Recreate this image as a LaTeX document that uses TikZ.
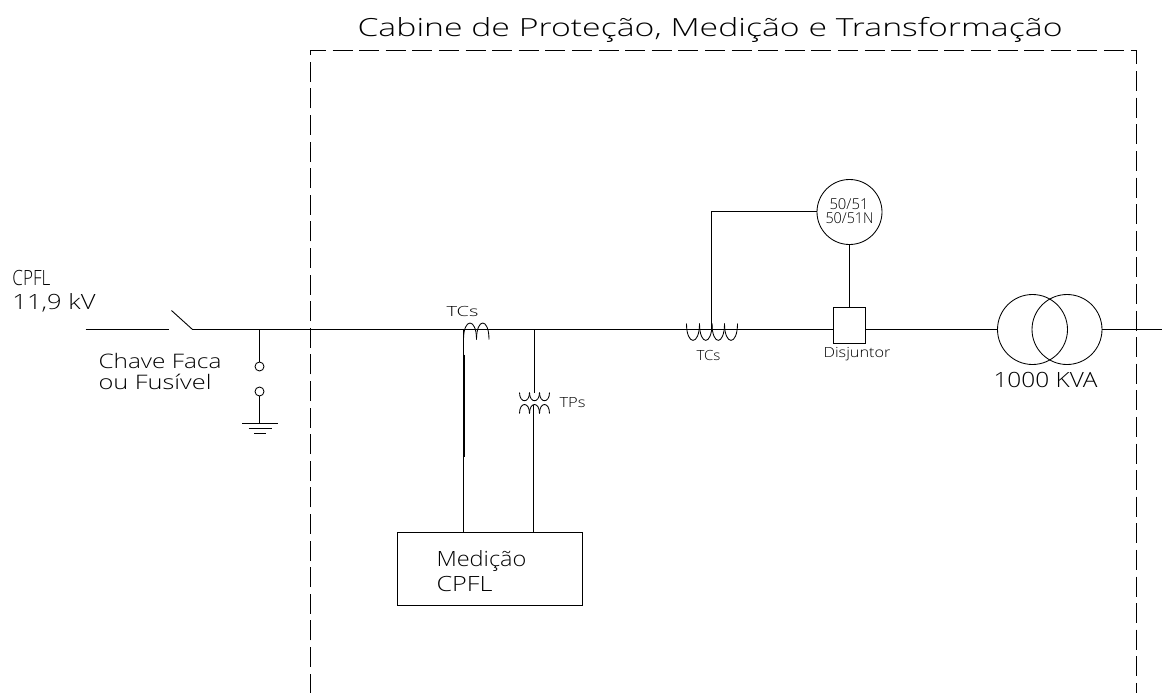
\documentclass[tikz,border=0pt]{standalone}
\usepackage{fontspec}
\usepackage{graphicx}
\newfontfamily\cadfont{Open Sans}[UprightFont=* Light]
% \cadtext{width}{font size}{text}: text stretched to a set width
\newcommand{\cadtext}[3]{\setbox0=\hbox{\fontsize{#2}{#2}\cadfont #3}%
  \pgfmathsetmacro{\cadratio}{#1pt/\the\wd0}%
  \scalebox{\cadratio}[1]{\box0}}
\tikzset{
  wire/.style={line width=0.9pt,black},
  thickwire/.style={line width=2pt,black},
  coil/.style={line width=0.85pt,black},
  boundary/.style={line width=0.9pt,black,dash pattern=on 20pt off 6.6pt},
  lbl/.style={anchor=base west,inner sep=0pt,outer sep=0pt,text=black},
  relay/.style={circle,draw,line width=0.85pt,minimum size=65pt,inner sep=0pt},
  tank/.style={circle,draw,line width=0.85pt,minimum size=70pt,inner sep=0pt},
  term/.style={circle,draw,line width=0.85pt,minimum size=9pt,inner sep=0pt},
  boxed/.style={rectangle,draw,line width=0.9pt,inner sep=0pt}
}
\begin{document}
\begin{tikzpicture}[x=1pt,y=-1pt]
\useasboundingbox (0,0) rectangle (1162,693);
\begin{scope}[xshift=0.5pt,yshift=-0.5pt]
% boundary
\draw[boundary] (310,693) -- (310,50) -- (1136,50) -- (1136,693);
% labels
\node[lbl] (title) at (357,36) {\cadtext{705}{25}{Cabine de Proteção, Medição e Transformação}};
\node[lbl] (cpfl) at (12,285) {\cadtext{38}{21}{CPFL}};
\node[lbl] (kv) at (12,309) {\cadtext{83}{21}{11,9 kV}};
\node[lbl] (chave) at (98,368) {\cadtext{123}{20}{Chave Faca}};
\node[lbl] (fus) at (98,389) {\cadtext{113}{20}{ou Fusível}};
\node[lbl] (tc1) at (446,316) {\cadtext{32}{14}{TCs}};
\node[lbl] (tp) at (559,407) {\cadtext{26}{14}{TPs}};
\node[lbl] (tc2) at (696,360) {\cadtext{24}{14}{TCs}};
\node[lbl] (dj) at (823,357) {\cadtext{67}{14}{Disjuntor}};
\node[lbl] (kva) at (993,387) {\cadtext{104}{21}{1000 KVA}};
% equipment nodes
\node[relay] (relay) at (849,211.5) {};
\node[lbl] (r1) at (829,209) {\cadtext{39}{15}{50/51}};
\node[lbl] (r2) at (825,223) {\cadtext{48}{15}{50/51N}};
\node[boxed,minimum width=32pt,minimum height=36pt] (disj) at (849,325) {};
\node[tank] (t1) at (1032,329) {};
\node[tank] (t2) at (1066.5,329) {};
\node[boxed,minimum width=185pt,minimum height=73pt] (med) at (489.5,568.5) {};
\node[lbl] (m1) at (436,566) {\cadtext{90}{21}{Medição}};
\node[lbl] (m2) at (436,591) {\cadtext{56}{21}{CPFL}};
\node[term] (ta) at (259,366) {};
\node[term] (tb) at (259,391) {};
% free ends and junctions
\coordinate (in) at (85,329);
\coordinate (swa) at (168,329);
\coordinate (swb) at (192,329);
\coordinate (swt) at (171,310);
\coordinate (jg) at (259,329);
\coordinate (gnd) at (259,423);
\coordinate (out) at (1162,329);
\coordinate (jtc) at (463,329);
\coordinate (jtp) at (534,329);
\coordinate (tpa) at (534,392);
\coordinate (tpb) at (533,404);
\coordinate (jr) at (711,329);
\coordinate (corner) at (711,211);
% main line
\draw[wire] (in) -- (swa);
\draw[wire] (swt) -- (swb) -- (disj.west |- swb);
\draw[wire] (disj.east |- swb) -- (t1.west);
\draw[wire] (t2.east) -- (out);
% earth branch
\draw[wire] (jg) -- (ta.north);
\draw[wire] (tb.south) -- (gnd);
\draw[wire] (241.5,423) -- (277,423);
\draw[wire] (248,428) -- (271,428);
\draw[wire] (253.5,433) -- (265,433);
% metering
\draw[wire] (jtc) -- (jtc |- med.north);
\draw[thickwire] (463,354) -- (463,456);
\draw[wire] (jtp) -- (tpa);
\draw[wire] (tpb) -- (tpb |- med.north);
% relay wiring
\draw[wire] (jr) -- (corner) -- (relay.west |- corner);
\draw[wire] (relay.south) -- (disj.north);
% TC 1
\draw[coil] (463,339) .. controls (463,317) and (476,317) .. (476,339);
\draw[coil] (476,339) .. controls (476,317) and (488.5,317) .. (488.5,339);
% TC 2
\foreach \a/\b in {686/699,699/711.5,711.5/724,724/737}
  \draw[coil] (\a,323) .. controls (\a,345.5) and (\b,345.5) .. (\b,323);
% TP
\foreach \a/\b in {519/529,529/539,539/549}
  \draw[coil] (\a,392) .. controls (\a,403) and (\b,403) .. (\b,392);
\foreach \a/\b in {519/529,529/539,539/549}
  \draw[coil] (\a,413) .. controls (\a,401) and (\b,401) .. (\b,413);
\end{scope}
\end{tikzpicture}
\end{document}
